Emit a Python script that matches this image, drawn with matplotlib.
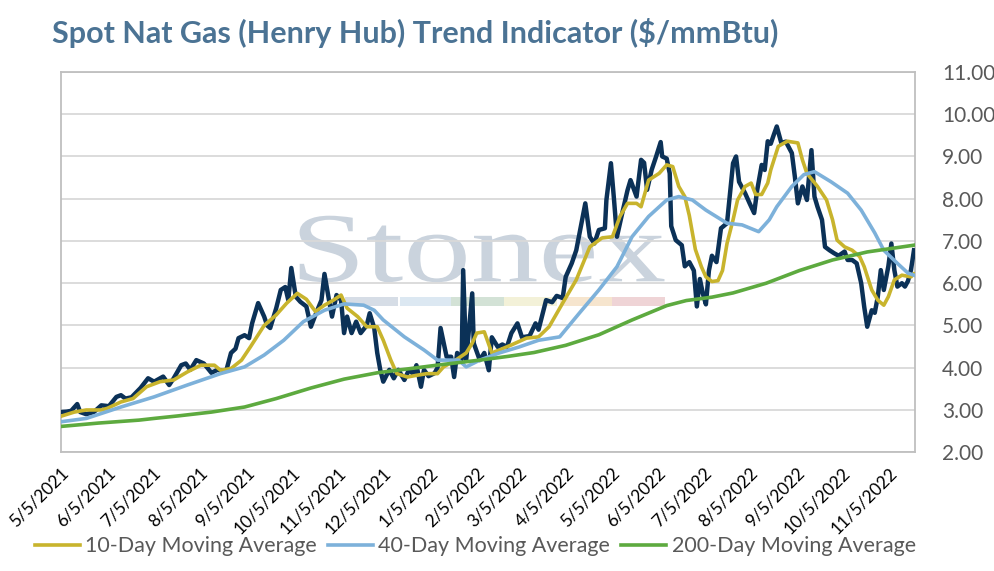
import numpy as np
import matplotlib
matplotlib.use("Agg")
import matplotlib.pyplot as plt
from matplotlib.patches import Rectangle, PathPatch
from matplotlib.textpath import TextPath
from matplotlib.font_manager import FontProperties
from matplotlib.transforms import Affine2D

plt.rcParams['font.family'] = ['Lato', 'DejaVu Sans']

start = np.datetime64('2021-05-05')

# spot Henry Hub price, days after 5/5/2021 and $/mmBtu
spot_day = [0, 4, 7, 11, 13, 17, 22, 27, 32, 37, 40, 43, 47, 53, 58, 62, 66, 68, 72, 75,
            80, 83, 86, 90, 95, 100, 104, 108, 110, 113, 116, 118, 122, 125, 127, 131, 135,
            137, 139, 143, 146, 149, 151, 153, 156, 159, 163, 166, 169, 173, 175, 178, 180,
            183, 186, 188, 190, 193, 196, 199, 203, 205, 208, 210, 212, 214, 218, 221, 224,
            228, 231, 234, 236, 239, 241, 244, 248, 250, 252, 256, 259, 261, 263, 266, 267,
            269, 271, 273, 274, 278, 281, 284, 286, 290, 293, 296, 299, 303, 306, 311, 315,
            317, 322, 326, 329, 333, 335, 339, 342, 345, 348, 351, 354, 357, 361, 362, 365,
            367, 369, 372, 376, 378, 382, 385, 387, 389, 392, 395, 398, 399, 402, 404, 405,
            408, 412, 414, 417, 420, 422, 424, 426, 428, 430, 432, 435, 438, 442, 444, 446,
            448, 450, 454, 457, 460, 462, 465, 467, 469, 471, 473, 475, 478, 481, 485, 487,
            489, 492, 495, 498, 500, 502, 505, 507, 510, 513, 516, 520, 522, 525, 528, 531,
            533, 535, 538, 540, 542, 544, 546, 549, 551, 553, 555, 558, 560, 562, 564, 566]
spot_val = [2.95, 2.96, 2.98, 3.14, 2.95, 2.90, 2.95, 3.11, 3.09, 3.31, 3.35, 3.27, 3.30,
            3.52, 3.75, 3.67, 3.75, 3.79, 3.59, 3.75, 4.06, 4.10, 3.95, 4.18, 4.10, 3.88,
            3.95, 3.92, 3.95, 4.35, 4.45, 4.70, 4.77, 4.70, 5.05, 5.53, 5.21, 5.00, 4.94,
            5.41, 5.84, 5.91, 5.60, 6.36, 5.68, 5.56, 5.45, 4.97, 5.25, 5.60, 6.22, 5.60,
            5.21, 5.72, 5.60, 4.82, 5.21, 4.82, 5.09, 4.82, 5.00, 5.29, 4.94, 4.35, 3.95,
            3.67, 3.95, 3.75, 3.95, 3.71, 3.95, 3.85, 4.06, 3.55, 3.95, 3.80, 3.87, 4.00,
            4.94, 4.26, 4.26, 3.78, 4.35, 4.20, 6.31, 4.18, 4.97, 5.76, 4.58, 4.18, 4.35,
            3.94, 4.72, 4.49, 4.55, 4.49, 4.82, 5.05, 4.72, 4.75, 5.05, 4.90, 5.60, 5.55,
            5.70, 5.65, 6.15, 6.47, 6.78, 7.34, 7.89, 7.10, 6.94, 7.26, 7.30, 7.97, 8.84,
            8.00, 7.10, 7.58, 8.20, 8.44, 8.05, 8.92, 8.85, 8.21, 8.68, 9.00, 9.34, 9.00,
            8.95, 8.60, 7.35, 7.02, 6.90, 6.40, 6.50, 6.30, 5.45, 6.10, 5.75, 5.50, 6.30,
            6.65, 6.50, 7.30, 7.42, 8.13, 8.84, 9.00, 8.40, 8.13, 7.89, 7.66, 8.20, 8.80,
            8.68, 9.36, 9.30, 9.51, 9.71, 9.32, 9.35, 9.08, 8.52, 7.89, 8.29, 7.97, 9.15,
            8.05, 7.81, 7.50, 6.86, 6.78, 6.71, 6.65, 6.75, 6.55, 6.55, 6.47, 6.00, 5.44,
            4.97, 5.36, 5.30, 5.68, 6.31, 5.84, 6.40, 6.94, 6.31, 5.92, 6.00, 5.92, 6.05,
            6.31, 6.78]

ma10_day = [0, 9, 17, 27, 31, 40, 48, 57, 66, 75, 84, 93, 102, 106, 113, 120, 126, 135,
            143, 150, 157, 163, 169, 175, 181, 186, 190, 197, 203, 210, 214, 219, 223, 230,
            236, 243, 250, 254, 262, 269, 273, 276, 281, 286, 291, 299, 309, 317, 324, 333,
            342, 351, 359, 366, 371, 376, 382, 385, 390, 397, 402, 406, 410, 414, 417, 421,
            425, 428, 432, 436, 439, 442, 446, 449, 454, 458, 461, 465, 469, 471, 476, 482,
            489, 492, 495, 502, 508, 512, 515, 520, 525, 530, 533, 538, 542, 546, 549, 553,
            558, 564, 566]
ma10_val = [2.85, 2.95, 3.00, 3.00, 3.04, 3.19, 3.27, 3.55, 3.67, 3.71, 3.90, 4.06, 4.06,
            3.94, 3.98, 4.18, 4.50, 5.00, 5.25, 5.53, 5.76, 5.62, 5.33, 5.48, 5.60, 5.72,
            5.41, 5.21, 4.97, 4.97, 4.65, 4.18, 3.86, 3.78, 3.82, 3.86, 3.86, 4.02, 4.18,
            4.35, 4.58, 4.82, 4.85, 4.35, 4.42, 4.54, 4.70, 4.73, 4.97, 5.53, 6.08, 6.86,
            7.07, 7.10, 7.58, 7.89, 7.89, 7.81, 8.44, 8.60, 8.80, 8.76, 8.29, 8.05, 7.60,
            6.80, 6.39, 6.15, 6.04, 6.06, 6.30, 6.94, 7.50, 7.97, 8.29, 8.37, 8.10, 8.10,
            8.37, 8.68, 9.24, 9.36, 9.32, 8.92, 8.60, 8.29, 7.97, 7.50, 7.02, 6.86, 6.78,
            6.63, 6.39, 5.84, 5.60, 5.48, 5.68, 6.08, 6.19, 6.15, 6.22]

ma40_day = [0, 17, 40, 62, 84, 106, 122, 135, 148, 161, 175, 188, 201, 208, 214, 228, 241,
            250, 256, 264, 269, 278, 291, 304, 317, 331, 344, 357, 369, 379, 390, 402, 410,
            419, 428, 442, 452, 463, 470, 475, 485, 493, 500, 511, 522, 531, 540, 546, 555,
            562, 566]
ma40_val = [2.72, 2.80, 3.07, 3.31, 3.59, 3.86, 4.02, 4.30, 4.65, 5.09, 5.36, 5.51, 5.48,
            5.36, 5.13, 4.73, 4.42, 4.18, 4.18, 4.18, 4.02, 4.18, 4.35, 4.49, 4.65, 4.73,
            5.29, 5.84, 6.39, 7.10, 7.58, 7.97, 8.05, 7.97, 7.73, 7.42, 7.38, 7.22, 7.50,
            7.81, 8.29, 8.57, 8.64, 8.40, 8.13, 7.73, 7.19, 6.78, 6.47, 6.24, 6.19]

ma200_day = [0, 25, 52, 62, 78, 100, 122, 143, 166, 188, 210, 232, 254, 278, 297, 314, 335,
             357, 379, 402, 415, 432, 446, 468, 490, 512, 535, 566]
ma200_val = [2.61, 2.69, 2.76, 2.80, 2.86, 2.95, 3.07, 3.27, 3.52, 3.73, 3.88, 3.98, 4.08,
             4.18, 4.27, 4.36, 4.53, 4.78, 5.13, 5.47, 5.59, 5.67, 5.77, 6.00, 6.30, 6.55,
             6.74, 6.90]

tick_labels = ['5/5/2021', '6/5/2021', '7/5/2021', '8/5/2021', '9/5/2021', '10/5/2021',
               '11/5/2021', '12/5/2021', '1/5/2022', '2/5/2022', '3/5/2022', '4/5/2022',
               '5/5/2022', '6/5/2022', '7/5/2022', '8/5/2022', '9/5/2022', '10/5/2022',
               '11/5/2022']


def to_dates(days):
    return (start + np.array(days, dtype='timedelta64[D]')).astype('datetime64[D]')


fig = plt.figure(figsize=(9.94, 5.71), dpi=100)
ax = fig.add_axes([0.061, 0.208, 0.86, 0.666])

ax.plot(to_dates(spot_day), spot_val, color='#0B3157', lw=3.2, zorder=3,
        solid_joinstyle='round')
ax.plot(to_dates(ma10_day), ma10_val, color='#C8B42D', lw=2.6, zorder=4,
        label='10-Day Moving Average')
ax.plot(to_dates(ma40_day), ma40_val, color='#7DB1DA', lw=2.6, zorder=5,
        label='40-Day Moving Average')
ax.plot(to_dates(ma200_day), ma200_val, color='#5DAA3F', lw=2.6, zorder=6,
        label='200-Day Moving Average')

# faint watermark, stretched to the logo box
wm = TextPath((0, 0), 'Stonex', size=1, prop=FontProperties(family='Liberation Serif'))
bb = wm.get_extents()
x0, x1, y0, y1 = 0.2795, 0.7064, 0.447, 0.622
tr = (Affine2D().translate(-bb.x0, -bb.y0)
      .scale((x1 - x0) / bb.width, (y1 - y0) / bb.height)
      .translate(x0, y0) + ax.transAxes)
ax.add_patch(PathPatch(wm, transform=tr, facecolor='#CAD3DD', lw=0, zorder=0))
wm_colors = ['#D6DDE6', '#DCE8F2', '#D3E2D6', '#F3F1D8', '#F6E5CE', '#EFD4D6']
wm_left = [0.333, 0.397, 0.457, 0.519, 0.584, 0.645]
for left, c in zip(wm_left, wm_colors):
    ax.add_patch(Rectangle((left, 0.385), 0.062, 0.022, transform=ax.transAxes,
                           color=c, lw=0, zorder=0))

ax.set_ylim(2, 11)
ax.set_yticks(np.arange(2, 12, 1))
ax.yaxis.set_major_formatter(matplotlib.ticker.FormatStrFormatter('%.2f'))
ax.yaxis.tick_right()
ax.set_xlim(start, start + np.timedelta64(567, 'D'))
tick_dates = [np.datetime64('%s-%02d-05' % (t.split('/')[2], int(t.split('/')[0])))
              for t in tick_labels]
ax.set_xticks(tick_dates)
ax.set_xticklabels(tick_labels, rotation=45, ha='right', rotation_mode='anchor',
                   fontsize=12.5, color='#000000')
ax.tick_params(axis='y', length=0, pad=19, labelsize=15, labelcolor='#595959')
ax.tick_params(axis='x', length=0, pad=9)
ax.grid(axis='y', color='#D9D9D9', lw=1.3)
ax.set_axisbelow(True)
for s in ax.spines.values():
    s.set_color('#BFBFBF')
    s.set_linewidth(1.3)

fig.text(0.052, 0.942, 'Spot Nat Gas (Henry Hub) Trend Indicator ($/mmBtu)',
         fontsize=22, fontweight='bold', color='#4B7394', va='center')

fig.legend(loc='lower center', bbox_to_anchor=(0.478, -0.008), ncol=3, frameon=False,
           fontsize=15.5, labelcolor='#595959', handlelength=2.1, handletextpad=0.25,
           columnspacing=0.5)

fig.savefig('out.png', dpi=100)
